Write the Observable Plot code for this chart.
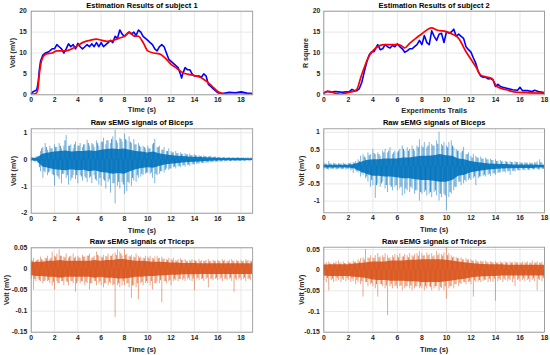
<!DOCTYPE html>
<html><head><meta charset="utf-8">
<script src="https://cdn.jsdelivr.net/npm/d3@7"></script>
<script src="https://cdn.jsdelivr.net/npm/@observablehq/plot@0.6"></script>
<style>
body{margin:0;background:#fff;}
#fig{position:relative;width:550px;height:355px;overflow:hidden;background:#fff;}
#fig svg{position:absolute;overflow:visible;}
</style></head><body><div id="fig"></div>
<script>
// ---------- Estimation results (top row) ----------
const s1BlueT = [0,0.2,0.4,0.5,0.6,0.7,0.8,1.0,1.2,1.5,1.8,2.0,2.2,2.4,2.6,2.8,3.0,3.2,3.4,3.6,3.8,4.0,4.2,4.4,4.6,4.8,5.0,5.2,5.4,5.6,5.8,6.0,6.2,6.4,6.6,6.8,7.0,7.2,7.4,7.6,7.8,8.0,8.2,8.4,8.6,8.8,9.0,9.2,9.4,9.6,9.8,10.0,10.2,10.4,10.6,10.8,11.0,11.2,11.4,11.6,11.8,12.0,12.2,12.4,12.6,12.8,12.9,13.0,13.2,13.4,13.6,13.8,14.0,14.2,14.4,14.6,14.8,15.0,15.2,15.4,15.6,15.8,16.0,16.4,17.0,17.5,18.0,18.5,19.0];
const s1BlueV = [0.3,0.8,1.0,1.5,3,6,8,9.5,10,10.3,11,11,12,11.5,11,10,11,12.2,11.5,12,11,12.3,11.5,11,11.5,12,11.5,12.2,11.5,12.5,11.5,12.5,11.5,12,12.5,13,12.5,14,13.5,15.5,14.5,14,14.5,15,14.5,15,14.2,15.5,15,14,13.5,13,12.5,12,11,10.5,11.5,12,11.5,10,8.5,8,7.5,7,6.5,5,4,5,6.5,6,6,5,4.5,4.5,4.5,4.2,5,4.5,2.5,2,1.5,1,0.5,0.3,0.6,0.5,0.7,0.4,0.3];
const s1RedT = [0,0.4,0.55,0.7,0.8,1.0,1.3,1.8,2.2,3.0,3.5,4.0,4.5,5.0,5.6,6.0,6.5,7.0,7.5,8.0,8.4,8.6,8.8,9.2,9.6,10.0,10.5,11.0,11.5,12.0,12.5,13.0,13.5,14.0,14.5,15.0,15.5,16.0,16.5,17.0,19.0];
const s1RedV = [0.1,0.3,1,5,7,9,9.8,10,10.5,10.5,11,11.8,12.6,13,13.3,13.1,12.8,13,13.5,14,15,14.6,14.1,14,12.5,10.5,10,9.8,8.8,7.3,6.3,5.3,4.9,4.6,4.2,3.3,2.1,0.8,0.2,0.1,0.1];

const s2BlueT = [0,0.3,0.6,0.9,1.2,1.5,1.8,2.1,2.3,2.5,2.7,2.9,3.1,3.3,3.5,3.7,3.9,4.1,4.3,4.4,4.6,4.8,5.0,5.2,5.4,5.6,5.8,6.0,6.2,6.4,6.6,6.8,7.0,7.2,7.4,7.6,7.8,8.0,8.2,8.4,8.6,8.8,9.0,9.2,9.4,9.6,9.8,10.0,10.2,10.4,10.6,10.8,11.0,11.2,11.4,11.6,11.8,12.0,12.2,12.4,12.6,12.8,13.0,13.2,13.4,13.6,13.8,14.0,14.2,14.4,14.6,15.0,15.4,15.8,16.0,16.2,16.6,17.0,17.2,17.5,18.0];
const s2BlueV = [0.5,0.8,0.6,0.8,0.7,0.6,0.7,0.8,1.3,1.0,1.0,1.5,3.0,5.5,7.8,9.5,10.3,10.3,11.5,12,10.8,11,12,11.5,11.2,11.8,11.5,12.2,11.5,11,10.2,10.5,11,11,11.5,12,13,12,14.2,12.5,12,15.3,14,13,14.5,14.7,12.5,15,14.8,15,15.7,14,14.5,14,13.5,11.5,10.8,10.2,8.8,7.5,5.5,4.5,4.2,4.2,3.8,3.9,3.6,2.0,2.5,2.0,1.8,1.5,1.2,1.1,1.8,1.0,1.0,0.8,1.1,0.8,0.5];
const s2RedT = [0,0.3,0.6,1.0,1.4,1.8,2.2,2.6,2.8,3.0,3.3,3.6,4.0,4.5,5.0,6.0,6.3,6.6,7.0,7.5,8.0,8.5,8.8,9.2,10.0,10.5,11.0,11.6,12.0,12.4,12.8,13.2,13.7,14.1,14.5,14.9,15.5,16.5,18.0];
const s2RedV = [0.3,0.9,0.7,0.3,0.1,0.4,0.7,1.0,2.0,4.0,6.5,8.8,10.5,11.7,12,12,11.8,11.2,12.3,13.5,14.6,15.7,16,15.5,15.1,14.5,13.5,10.3,8.5,6.7,4.7,4.3,3.9,2.0,1.5,1.2,0.7,0.5,0.4];

// ---------- Raw sEMG: spike extremes every 0.2 s, mid spikes between them, dense core every 0.5 s ----------
const emgStep = 0.2, coreStep = 0.5;
const bic1Hi = [0.08,0.06,0.10,0.12,0.30,0.45,0.60,0.35,0.50,0.40,
 0.55,0.45,0.60,0.40,0.50,0.90,0.50,0.55,0.40,0.65,
 0.50,0.60,0.45,0.55,0.72,0.50,0.60,0.45,0.70,0.50,
 0.65,0.80,0.55,0.70,0.60,0.85,1.10,0.60,0.80,0.65,
 0.95,0.70,0.85,0.60,0.75,0.55,0.60,0.45,0.50,0.40,
 0.50,0.40,0.55,0.76,0.45,0.50,0.35,0.45,0.30,0.40,
 0.30,0.25,0.30,0.22,0.25,0.20,0.22,0.18,0.20,0.15,
 0.18,0.14,0.15,0.12,0.14,0.12,0.10,0.12,0.09,0.10,
 0.08,0.09,0.07,0.08,0.07,0.08,0.06,0.07,0.06,0.07,
 0.06,0.07,0.06,0.07,0.06,0.05];
const bic1Lo = [-0.08,-0.07,-0.10,-0.15,-0.45,-0.70,-0.50,-0.60,-0.45,-0.55,
 -1.00,-0.60,-0.75,-0.90,-0.55,-0.70,-0.95,-0.80,-0.60,-0.75,
 -0.90,-0.60,-0.80,-0.65,-0.85,-0.70,-0.90,-0.60,-0.80,-0.95,
 -1.00,-0.75,-1.10,-0.85,-1.25,-0.90,-1.65,-1.00,-1.10,-0.85,
 -1.30,-1.20,-0.90,-1.00,-0.80,-0.85,-0.70,-0.65,-0.60,-0.55,
 -0.50,-0.55,-0.70,-0.90,-0.60,-0.55,-0.45,-0.50,-0.35,-0.40,
 -0.35,-0.30,-0.35,-0.28,-0.30,-0.25,-0.28,-0.22,-0.25,-0.20,
 -0.20,-0.18,-0.17,-0.15,-0.16,-0.14,-0.13,-0.12,-0.11,-0.10,
 -0.09,-0.10,-0.08,-0.09,-0.08,-0.08,-0.07,-0.08,-0.07,-0.07,
 -0.07,-0.06,-0.07,-0.06,-0.06,-0.05];
const bic1Mid = [0.06,-0.08,0.10,-0.30,0.40,-0.45,0.45,-0.50,0.40,-0.60,
 0.45,-0.65,0.50,-0.55,0.70,-0.60,0.50,-0.70,0.55,-0.60,
 0.50,-0.65,0.55,-0.70,0.60,-0.65,0.55,-0.75,0.60,-0.70,
 0.65,-0.80,0.70,-0.75,0.75,-0.90,0.70,-0.85,0.75,-0.95,
 0.75,-0.85,0.65,-0.70,0.55,-0.60,0.50,-0.55,0.45,-0.50,
 0.40,-0.50,0.60,-0.55,0.45,-0.45,0.35,-0.40,0.30,-0.35,
 0.25,-0.28,0.22,-0.25,0.20,-0.22,0.18,-0.20,0.15,-0.18,
 0.14,-0.15,0.12,-0.13,0.11,-0.12,0.10,-0.10,0.08,-0.09,
 0.07,-0.08,0.07,-0.07,0.06,-0.07,0.06,-0.06,0.06,-0.06,
 0.05,-0.06,0.05,-0.05,0.05];
const bic1CoreHi = [0.04,0.05,0.20,0.25,0.28,0.30,0.32,0.28,0.30,0.30,0.33,0.30,0.35,0.38,0.40,0.38,0.40,0.35,0.30,0.28,0.25,0.28,0.22,0.18,0.15,0.13,0.12,0.10,0.09,0.08,0.07,0.06,0.05,0.045,0.04,0.04,0.04,0.035,0.035];
const bic1CoreLo = [-0.04,-0.06,-0.28,-0.32,-0.38,-0.40,-0.42,-0.38,-0.42,-0.40,-0.45,-0.42,-0.48,-0.50,-0.55,-0.52,-0.55,-0.45,-0.38,-0.33,-0.30,-0.32,-0.26,-0.20,-0.17,-0.15,-0.13,-0.11,-0.10,-0.09,-0.07,-0.06,-0.05,-0.045,-0.04,-0.04,-0.04,-0.035,-0.035];

const bic2Hi = [0.10,0.08,0.15,0.08,0.10,0.07,0.09,0.08,0.10,0.07,
 0.09,0.10,0.12,0.15,0.20,0.30,0.35,0.25,0.40,0.35,
 0.50,0.35,0.40,0.30,0.45,0.50,0.40,0.55,0.35,0.45,
 0.40,0.50,0.60,0.45,0.55,0.50,0.60,0.45,0.60,0.78,
 0.60,0.70,0.55,0.70,0.65,0.60,0.75,1.00,0.65,0.70,
 0.60,0.70,0.75,0.55,0.50,0.45,0.40,0.56,0.35,0.40,
 0.30,0.35,0.30,0.25,0.28,0.22,0.25,0.20,0.22,0.18,
 0.20,0.16,0.18,0.14,0.15,0.13,0.15,0.12,0.14,0.12,
 0.12,0.10,0.12,0.10,0.11,0.10,0.12,0.14,0.20,0.10,
 0.06];
const bic2Lo = [-0.10,-0.08,-0.10,-0.09,-0.08,-0.10,-0.07,-0.09,-0.08,-0.10,
 -0.08,-0.12,-0.20,-0.12,-0.18,-0.30,-0.25,-0.35,-0.45,-0.60,
 -0.55,-0.92,-0.50,-0.60,-0.45,-0.65,-0.75,-0.55,-0.70,-0.60,
 -0.70,-0.65,-0.85,-0.80,-0.70,-0.75,-0.65,-0.80,-0.70,-1.00,
 -0.80,-0.75,-0.85,-0.80,-0.90,-0.75,-0.85,-1.00,-0.90,-0.80,
 -1.28,-0.90,-0.80,-0.70,-0.60,-0.45,-0.55,-0.50,-0.45,-0.40,
 -0.40,-0.35,-0.55,-0.35,-0.30,-0.28,-0.30,-0.25,-0.28,-0.22,
 -0.25,-0.20,-0.18,-0.16,-0.18,-0.15,-0.25,-0.14,-0.15,-0.12,
 -0.12,-0.10,-0.12,-0.10,-0.11,-0.09,-0.10,-0.09,-0.10,-0.08,
 -0.06];
const bic2Mid = [0.07,-0.08,0.08,-0.07,0.08,-0.08,0.07,-0.08,0.07,-0.07,
 0.08,-0.09,0.10,-0.15,0.15,-0.20,0.28,-0.30,0.32,-0.40,
 0.38,-0.55,0.35,-0.50,0.40,-0.55,0.45,-0.60,0.40,-0.55,
 0.45,-0.60,0.50,-0.65,0.45,-0.60,0.50,-0.70,0.55,-0.75,
 0.55,-0.70,0.60,-0.75,0.60,-0.70,0.65,-0.80,0.60,-0.85,
 0.55,-0.75,0.60,-0.60,0.45,-0.45,0.45,-0.40,0.35,-0.35,
 0.25,-0.30,0.25,-0.30,0.22,-0.25,0.20,-0.22,0.18,-0.20,
 0.15,-0.18,0.14,-0.15,0.13,-0.14,0.12,-0.13,0.12,-0.12,
 0.10,-0.10,0.10,-0.10,0.09,-0.09,0.10,-0.09,0.12,-0.08];
const bic2CoreHi = [0.04,0.04,0.04,0.04,0.04,0.06,0.12,0.18,0.20,0.20,0.22,0.22,0.22,0.25,0.25,0.28,0.30,0.30,0.32,0.35,0.32,0.30,0.22,0.20,0.15,0.12,0.10,0.08,0.07,0.06,0.06,0.05,0.05,0.05,0.05,0.04,0.04];
const bic2CoreLo = [-0.04,-0.04,-0.04,-0.04,-0.04,-0.06,-0.15,-0.22,-0.28,-0.28,-0.30,-0.30,-0.32,-0.35,-0.35,-0.38,-0.40,-0.40,-0.42,-0.45,-0.45,-0.40,-0.28,-0.25,-0.18,-0.15,-0.12,-0.10,-0.08,-0.07,-0.06,-0.06,-0.05,-0.05,-0.05,-0.04,-0.04];

const tri1Hi = [0.020,0.025,0.018,0.022,0.028,0.020,0.025,0.030,0.022,0.040,
 0.030,0.035,0.045,0.030,0.028,0.035,0.025,0.030,0.035,0.028,
 0.030,0.025,0.032,0.028,0.030,0.035,0.025,0.030,0.040,0.030,
 0.028,0.032,0.030,0.035,0.030,0.035,0.038,0.045,0.040,0.030,
 0.045,0.035,0.030,0.032,0.028,0.035,0.030,0.028,0.025,0.030,
 0.028,0.030,0.025,0.028,0.030,0.025,0.028,0.024,0.022,0.025,
 0.022,0.025,0.020,0.022,0.024,0.020,0.022,0.018,0.020,0.022,
 0.020,0.018,0.022,0.020,0.018,0.020,0.022,0.018,0.020,0.018,
 0.020,0.018,0.022,0.020,0.018,0.020,0.022,0.018,0.020,0.018,
 0.020,0.018,0.022,0.020,0.018,0.020];
const tri1Lo = [-0.025,-0.050,-0.030,-0.025,-0.030,-0.035,-0.028,-0.030,-0.035,-0.040,
 -0.050,-0.030,-0.035,-0.030,-0.040,-0.030,-0.040,-0.030,-0.035,-0.055,
 -0.030,-0.035,-0.030,-0.040,-0.035,-0.050,-0.035,-0.030,-0.040,-0.035,
 -0.040,-0.045,-0.035,-0.040,-0.035,-0.040,-0.115,-0.040,-0.045,-0.040,
 -0.040,-0.035,-0.045,-0.070,-0.040,-0.045,-0.073,-0.035,-0.040,-0.035,
 -0.035,-0.040,-0.050,-0.035,-0.030,-0.035,-0.080,-0.030,-0.035,-0.030,
 -0.040,-0.030,-0.028,-0.030,-0.025,-0.028,-0.030,-0.025,-0.028,-0.030,
 -0.052,-0.025,-0.028,-0.025,-0.030,-0.025,-0.045,-0.025,-0.028,-0.025,
 -0.028,-0.025,-0.030,-0.025,-0.028,-0.025,-0.030,-0.055,-0.028,-0.025,
 -0.028,-0.025,-0.030,-0.025,-0.028,-0.025];
const tri1Mid = [0.018,-0.025,0.020,-0.028,0.022,-0.030,0.024,-0.028,0.025,-0.032,
 0.028,-0.035,0.030,-0.030,0.026,-0.032,0.028,-0.030,0.025,-0.035,
 0.026,-0.030,0.028,-0.032,0.030,-0.035,0.026,-0.030,0.032,-0.030,
 0.026,-0.035,0.028,-0.032,0.030,-0.038,0.032,-0.035,0.035,-0.030,
 0.032,-0.035,0.028,-0.040,0.026,-0.035,0.025,-0.032,0.024,-0.030,
 0.024,-0.030,0.022,-0.035,0.024,-0.028,0.022,-0.030,0.020,-0.028,
 0.020,-0.025,0.018,-0.025,0.020,-0.024,0.018,-0.022,0.018,-0.024,
 0.018,-0.022,0.017,-0.024,0.018,-0.022,0.017,-0.024,0.018,-0.022,
 0.017,-0.022,0.018,-0.024,0.017,-0.022,0.018,-0.024,0.017,-0.022,
 0.017,-0.022,0.018,-0.024,0.017];
const tri1CoreHi = [0.014,0.016,0.016,0.018,0.018,0.020,0.018,0.018,0.018,0.018,0.018,0.020,0.018,0.020,0.020,0.022,0.022,0.020,0.018,0.018,0.017,0.016,0.016,0.015,0.014,0.014,0.013,0.013,0.013,0.012,0.012,0.012,0.012,0.012,0.012,0.012,0.012,0.012,0.012];
const tri1CoreLo = [-0.016,-0.018,-0.018,-0.020,-0.020,-0.022,-0.020,-0.020,-0.020,-0.020,-0.020,-0.022,-0.020,-0.022,-0.022,-0.024,-0.024,-0.022,-0.020,-0.020,-0.018,-0.018,-0.017,-0.016,-0.015,-0.015,-0.014,-0.014,-0.014,-0.013,-0.013,-0.013,-0.013,-0.013,-0.013,-0.013,-0.013,-0.013,-0.013];

const tri2Hi = [0.015,0.018,0.020,0.015,0.018,0.020,0.022,0.018,0.020,0.015,
 0.020,0.018,0.022,0.020,0.025,0.028,0.030,0.050,0.030,0.035,
 0.030,0.035,0.040,0.032,0.035,0.040,0.035,0.030,0.035,0.038,
 0.035,0.040,0.032,0.038,0.035,0.040,0.035,0.038,0.040,0.045,
 0.040,0.035,0.042,0.038,0.040,0.035,0.045,0.040,0.038,0.042,
 0.055,0.040,0.035,0.032,0.030,0.028,0.030,0.025,0.028,0.025,
 0.025,0.022,0.025,0.020,0.022,0.020,0.022,0.018,0.020,0.018,
 0.020,0.018,0.020,0.018,0.020,0.018,0.020,0.018,0.020,0.018,
 0.018,0.020,0.018,0.020,0.018,0.022,0.018,0.020,0.018,0.020,
 0.015];
const tri2Lo = [-0.025,-0.030,-0.050,-0.025,-0.030,-0.028,-0.025,-0.030,-0.025,-0.028,
 -0.025,-0.030,-0.028,-0.035,-0.030,-0.035,-0.065,-0.030,-0.040,-0.035,
 -0.040,-0.045,-0.065,-0.035,-0.040,-0.045,-0.110,-0.040,-0.045,-0.040,
 -0.045,-0.040,-0.050,-0.045,-0.040,-0.045,-0.050,-0.045,-0.040,-0.045,
 -0.045,-0.050,-0.045,-0.040,-0.050,-0.045,-0.040,-0.050,-0.045,-0.050,
 -0.070,-0.045,-0.040,-0.045,-0.035,-0.040,-0.035,-0.030,-0.035,-0.030,
 -0.035,-0.065,-0.030,-0.028,-0.030,-0.028,-0.025,-0.030,-0.028,-0.030,
 -0.075,-0.028,-0.025,-0.030,-0.025,-0.028,-0.025,-0.030,-0.040,-0.025,
 -0.028,-0.025,-0.028,-0.025,-0.030,-0.025,-0.028,-0.050,-0.025,-0.028,
 -0.020];
const tri2Mid = [0.014,-0.020,0.015,-0.022,0.016,-0.020,0.015,-0.022,0.016,-0.020,
 0.016,-0.022,0.018,-0.025,0.020,-0.028,0.025,-0.030,0.028,-0.032,
 0.028,-0.035,0.030,-0.035,0.030,-0.038,0.028,-0.035,0.030,-0.038,
 0.030,-0.038,0.032,-0.040,0.030,-0.038,0.032,-0.040,0.034,-0.040,
 0.034,-0.040,0.035,-0.042,0.032,-0.040,0.035,-0.042,0.034,-0.040,
 0.035,-0.040,0.030,-0.035,0.028,-0.032,0.025,-0.030,0.024,-0.028,
 0.022,-0.026,0.020,-0.025,0.020,-0.024,0.018,-0.022,0.018,-0.022,
 0.017,-0.022,0.017,-0.022,0.017,-0.022,0.017,-0.022,0.017,-0.022,
 0.016,-0.021,0.017,-0.022,0.016,-0.021,0.017,-0.022,0.016,-0.020];
const tri2CoreHi = [0.012,0.013,0.013,0.013,0.013,0.015,0.016,0.018,0.020,0.020,0.020,0.022,0.022,0.022,0.024,0.024,0.025,0.025,0.025,0.025,0.024,0.022,0.020,0.018,0.016,0.015,0.014,0.013,0.013,0.013,0.012,0.012,0.012,0.012,0.012,0.012,0.012];
const tri2CoreLo = [-0.014,-0.015,-0.015,-0.015,-0.015,-0.017,-0.018,-0.020,-0.024,-0.025,-0.025,-0.027,-0.027,-0.027,-0.028,-0.028,-0.030,-0.030,-0.030,-0.030,-0.028,-0.026,-0.024,-0.022,-0.019,-0.017,-0.016,-0.015,-0.015,-0.014,-0.014,-0.014,-0.014,-0.014,-0.014,-0.014,-0.014];

// ---------- ticks & labels ----------
const xTicks = [0,2,4,6,8,10,12,14,16,18];
const estTicks = [0,5,10,15,20];
const bic1Ticks = [-2,-1,0,1];
const bic2Ticks = [-1,-0.5,0,0.5,1];
const triTicks = [-0.15,-0.1,-0.05,0,0.05];
const titles = ["Estimation Results of subject 1","Estimation Results of subject 2","Raw sEMG signals of Biceps","Raw sEMG signals of Triceps"];
const xLabels = ["Time (s)","Experiments Trails"];
const yLabels = ["Volt (mV)","R square"];

const BLUE = "#0072BD", ORANGE = "#D95319";
const FONT = "'Liberation Sans', Arial, Helvetica, sans-serif";
const fig = document.getElementById("fig");

function panel(o) {
  const chart = Plot.plot({
    width: o.w, height: o.h,
    marginLeft: o.mL, marginRight: o.mR, marginTop: o.mT, marginBottom: o.mB,
    style: {fontFamily: FONT, fontSize: "6.8px", fontWeight: "bold", color: "#262626", background: "transparent", overflow: "visible"},
    x: {domain: o.xDomain},
    y: {domain: o.yDomain},
    marks: [
      Plot.gridX(xTicks, {stroke: "#e8e8e8", strokeOpacity: 1}),
      Plot.gridY(o.yTicks, {stroke: "#e8e8e8", strokeOpacity: 1}),
      ...o.marks,
      Plot.frame({stroke: "#8c8c8c", strokeWidth: 0.8}),
      Plot.axisX(xTicks, {tickSize: 0, tickPadding: 2.5, label: null, tickFormat: d => String(d)}),
      Plot.axisY(o.yTicks, {tickSize: 0, tickPadding: o.yPad, label: null, tickFormat: d => String(d)}),
      Plot.text([o.title], {text: d => d, frameAnchor: "top", dy: o.titleDy, lineAnchor: "middle", textAnchor: "middle", fontSize: 7.5, fontWeight: "bold", fill: "#000"}),
      Plot.text([o.xLabel], {text: d => d, frameAnchor: "bottom", dy: o.xLabelDy, lineAnchor: "middle", textAnchor: "middle", fontSize: 7.4, fontWeight: "bold", fill: "#262626"}),
      Plot.text([o.yLabel], {text: d => d, frameAnchor: "left", dx: o.yLabelDx, rotate: -90, lineAnchor: "middle", textAnchor: "middle", fontSize: 7, fontWeight: "bold", fill: "#262626"})
    ]
  });
  chart.style.left = o.left + "px";
  chart.style.top = o.top + "px";
  fig.appendChild(chart);
}

function estMarks(bt, bv, rt, rv) {
  return [
    Plot.line(bv, {x: (d, i) => bt[i], y: d => d, stroke: "#0000FF", strokeWidth: 1.6, clip: true}),
    Plot.line(rv, {x: (d, i) => rt[i], y: d => d, stroke: "#FF0000", strokeWidth: 1.7, curve: "monotone-x", clip: true})
  ];
}
function emgMarks(hi, lo, mid, cHi, cLo, color) {
  return [
    Plot.ruleX(hi, {x: (d, i) => i * emgStep, y1: (d, i) => lo[i], y2: d => d, stroke: color, strokeOpacity: 0.5, strokeWidth: 1, clip: true}),
    Plot.ruleX(mid, {x: (d, i) => i * emgStep + emgStep / 2, y1: 0, y2: d => d, stroke: color, strokeOpacity: 0.75, strokeWidth: 1, clip: true}),
    Plot.areaY(cHi, {x: (d, i) => i * coreStep, y1: (d, i) => cLo[i], y2: d => d, fill: color, fillOpacity: 0.9, clip: true})
  ];
}

// Row 1
panel({left: 0, top: 0, w: 275, h: 117, mL: 30.7, mR: 22.8, mT: 10.7, mB: 22.7,
  xDomain: [0, 19], yDomain: [0, 20], yTicks: estTicks, yPad: 4.5,
  title: titles[0], titleDy: -5.6, xLabel: xLabels[0], xLabelDy: 14.8, yLabel: yLabels[0], yLabelDx: -18.5,
  marks: estMarks(s1BlueT, s1BlueV, s1RedT, s1RedV)});
panel({left: 275, top: 0, w: 275, h: 117, mL: 48.3, mR: 6, mT: 10.7, mB: 22.7,
  xDomain: [0, 18], yDomain: [0, 20], yTicks: estTicks, yPad: 3.5,
  title: titles[1], titleDy: -5.6, xLabel: xLabels[1], xLabelDy: 15.5, yLabel: yLabels[1], yLabelDx: -18.5,
  marks: estMarks(s2BlueT, s2BlueV, s2RedT, s2RedV)});
// Row 2
panel({left: 0, top: 117, w: 275, h: 118, mL: 30.7, mR: 22.8, mT: 11.3, mB: 22.3,
  xDomain: [0, 19], yDomain: [-2, 1.15], yTicks: bic1Ticks, yPad: 4,
  title: titles[2], titleDy: -6, xLabel: xLabels[0], xLabelDy: 17, yLabel: yLabels[0], yLabelDx: -17.6,
  marks: emgMarks(bic1Hi, bic1Lo, bic1Mid, bic1CoreHi, bic1CoreLo, BLUE)});
panel({left: 275, top: 117, w: 275, h: 118, mL: 48.3, mR: 6, mT: 11.3, mB: 22.7,
  xDomain: [0, 18], yDomain: [-1.34, 1.1], yTicks: bic2Ticks, yPad: 4,
  title: titles[2], titleDy: -6, xLabel: xLabels[0], xLabelDy: 17, yLabel: yLabels[0], yLabelDx: -22,
  marks: emgMarks(bic2Hi, bic2Lo, bic2Mid, bic2CoreHi, bic2CoreLo, BLUE)});
// Row 3
panel({left: 0, top: 235, w: 275, h: 120, mL: 30.7, mR: 22.8, mT: 12.3, mB: 23.3,
  xDomain: [0, 19], yDomain: [-0.15, 0.05], yTicks: triTicks, yPad: 4,
  title: titles[3], titleDy: -6.3, xLabel: xLabels[0], xLabelDy: 17, yLabel: yLabels[0], yLabelDx: -24.5,
  marks: emgMarks(tri1Hi, tri1Lo, tri1Mid, tri1CoreHi, tri1CoreLo, ORANGE)});
panel({left: 275, top: 235, w: 275, h: 120, mL: 48.3, mR: 6, mT: 11.7, mB: 23.3,
  xDomain: [0, 18], yDomain: [-0.15, 0.0556], yTicks: triTicks, yPad: 4,
  title: titles[3], titleDy: -6, xLabel: xLabels[0], xLabelDy: 17, yLabel: yLabels[0], yLabelDx: -22.5,
  marks: emgMarks(tri2Hi, tri2Lo, tri2Mid, tri2CoreHi, tri2CoreLo, ORANGE)});
</script></body></html>
